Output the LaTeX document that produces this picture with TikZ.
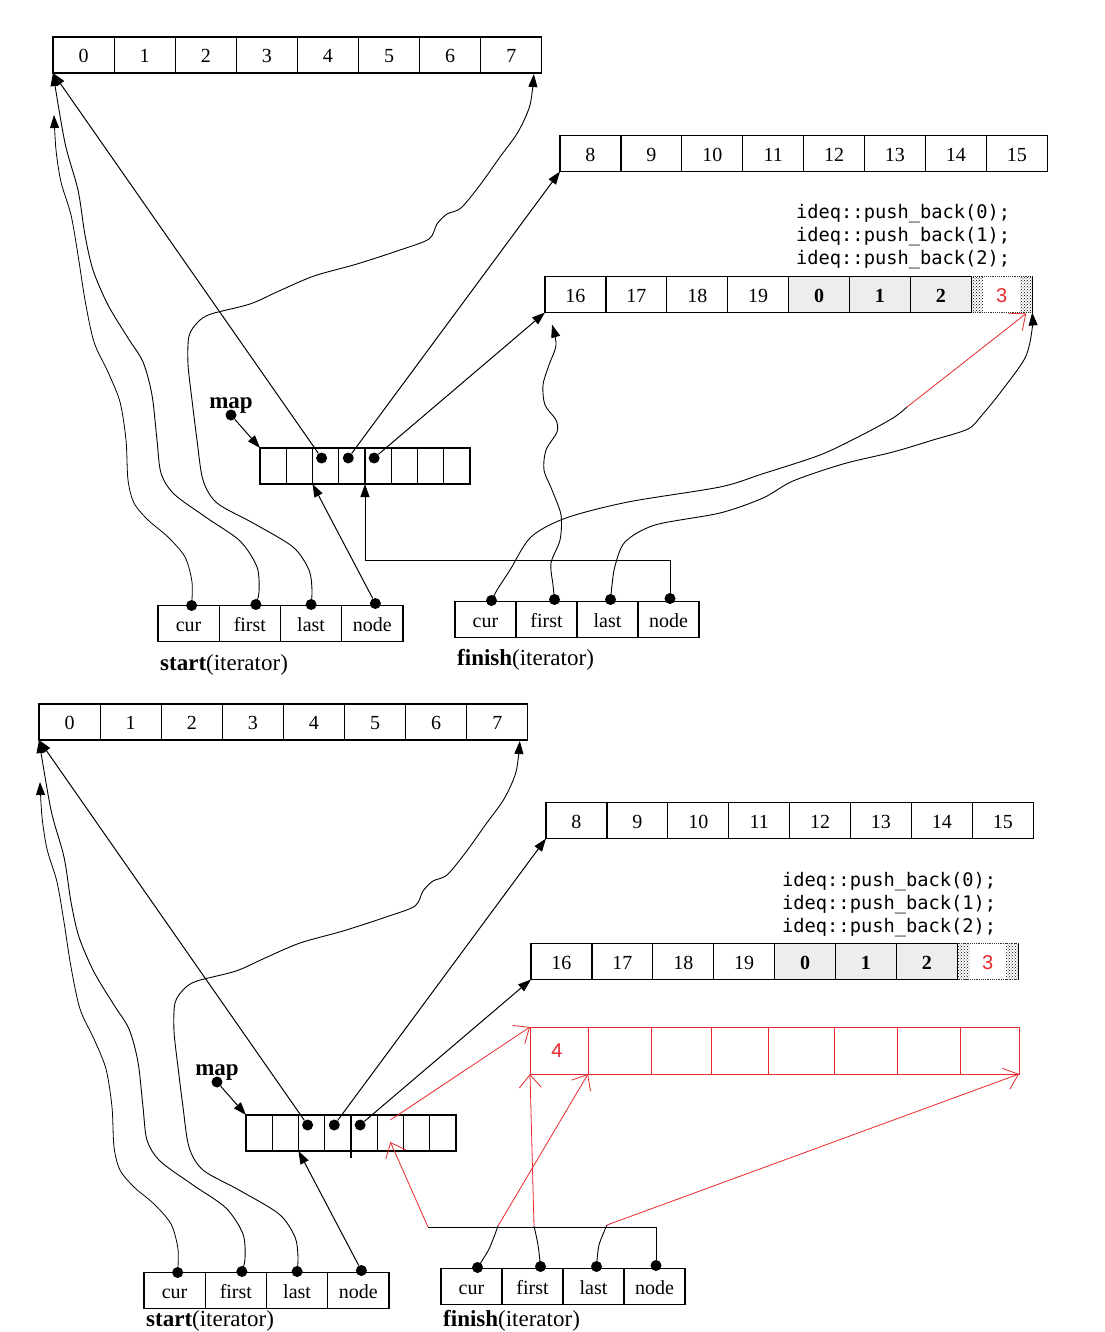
\documentclass[tikz,border=0pt]{standalone}
\usepackage{fontspec}
\setmainfont{Liberation Serif}
\newfontfamily\monof{DejaVu Sans Mono}
\newfontfamily\sansf{Liberation Sans}
\usetikzlibrary{arrows.meta,patterns}
\definecolor{pred}{RGB}{235,40,45}
\tikzset{
 cellbox/.style={draw, line width=1.2pt, inner sep=0pt, outer sep=0pt, minimum height=36pt, anchor=west, text height=18pt, text depth=2.5pt, font=\fontsize{20}{24}\selectfont},
 rcell/.style={draw=pred, line width=0.9pt, inner sep=0pt, outer sep=0pt, minimum height=47pt, anchor=west},
 dotn/.style={circle, fill=black, inner sep=0pt, minimum size=11pt},
 ptr/.style={line width=1pt, -{Triangle[length=13pt,width=9pt]}},
 wig/.style={line width=0.9pt, -{Triangle[length=13pt,width=9pt]}},
 thinwig/.style={line width=0.9pt},
 rptr/.style={draw=pred, line width=0.8pt, -{Straight Barb[length=13pt,width=22pt,line width=0.8pt]}},
 lbl/.style={font=\fontsize{23}{27}\selectfont, inner sep=0pt},
 mono/.style={font=\monof\fontsize{18.7}{23}\selectfont, inner sep=0pt, anchor=base west},
}
\newcommand\labdys{0}
\newcommand\labdyf{0}
\newcommand\dequebase{%
 \foreach \v [count=\i from 0] in {0,...,7}
   \node[cellbox, minimum width=61.1pt] (T\i) at (53+61.1*\i,55) {\v};
 \foreach \v [count=\i from 0] in {8,...,15}
   \node[cellbox, minimum width=60.9pt] (M\i) at (560+60.9*\i,153.5) {\v};
 \foreach \v [count=\i from 0] in {16,...,19}
   \node[cellbox, minimum width=60.9pt] (L\i) at (545+60.9*\i,294.5) {\v};
 \foreach \v [count=\i from 4] in {0,1,2}
   \node[cellbox, minimum width=60.9pt, fill=black!7, font=\fontsize{20}{24}\selectfont\bfseries] (L\i) at (545+60.9*\i,294.5) {\v};
 \node[cellbox, minimum width=60.9pt, draw=none, text=pred, font=\sansf\fontsize{20}{24}\selectfont] (L7) at (545+60.9*7,294.5) {3};
 \path[pattern=crosshatch dots, pattern color=black] (L7.north west) rectangle ([xshift=12pt]L7.south west);
 \path[pattern=crosshatch dots, pattern color=black] ([xshift=-12pt]L7.north east) rectangle (L7.south east);
 \draw[line width=1.2pt, black!80, densely dotted] (L7.north west) rectangle (L7.south east);
 \draw[line width=1pt] (L7.north west) -- (L7.south west) (L7.north east) -- (L7.south east);
 \foreach \i in {0,...,7}
   \node[cellbox, minimum width=26.25pt] (P\i) at (260+26.25*\i,466) {};
 \foreach \v [count=\i from 0] in {cur,first,last,node}
   \node[cellbox, minimum width=61.25pt] (S\i) at (158+61.25*\i,623.5) {\v};
 \foreach \v [count=\i from 0] in {cur,first,last,node}
   \node[cellbox, minimum width=61pt] (F\i) at (455+61*\i,619.5) {\v};
 % texts
 \node[mono] (PB0) at (796,219) {ideq::push\_back(0);};
 \node[mono] (PB1) at (796,242) {ideq::push\_back(1);};
 \node[mono] (PB2) at (796,265) {ideq::push\_back(2);};
 \node[lbl, anchor=base, font=\fontsize{23}{27}\selectfont\bfseries] (maplbl) at (231,408) {map};
 \node[lbl, anchor=base west] (SL) at (160,670+\labdys) {\textbf{start}(iterator)};
 \node[lbl, anchor=base west] (FL) at (457,665+\labdyf) {\textbf{finish}(iterator)};
 % dots
 \node[dotn] (mapdot) at (231,415) {};
 \node[dotn, xshift=-4pt, yshift=8pt] (Pd2) at (P2.center) {};
 \node[dotn, xshift=-3.6pt, yshift=8pt] (Pd3) at (P3.center) {};
 \node[dotn, xshift=-4pt, yshift=8pt] (Pd4) at (P4.center) {};
 \node[dotn, xshift=3pt] (Sd0) at (S0.north) {};
 \node[dotn, xshift=6pt, yshift=1pt] (Sd1) at (S1.north) {};
 \node[dotn, yshift=1pt] (Sd2) at (S2.north) {};
 \node[dotn, xshift=3pt, yshift=2pt] (Sd3) at (S3.north) {};
 \node[dotn, xshift=6pt, yshift=1pt] (Fd0) at (F0.north) {};
 \node[dotn, xshift=8pt, yshift=2pt] (Fd1) at (F1.north) {};
 \node[dotn, xshift=3pt, yshift=2pt] (Fd2) at (F2.north) {};
 \node[dotn, xshift=1.5pt, yshift=3pt] (Fd3) at (F3.north) {};
 % connectors
 \draw[ptr] (mapdot) -- (P0.north west);
 \draw[ptr] (Pd2) -- (T0.south west);
 \draw[ptr] (Pd3) -- (M0.south west);
 \draw[ptr] (Pd4) -- (L0.south west);
 \draw[ptr] (Sd3) -- (P2.south west);
 \coordinate (curend) at ([xshift=1pt,yshift=-42pt]T0.south west);
 \coordinate (lastend) at ([xshift=-8pt,yshift=-1pt]T7.south east);
 \draw[wig, line width=0.8pt] plot[smooth] coordinates {(Sd0) (192,582) (185,557) (168,537) (148,520) (134,503) (128,480) (126,440) (120,402) (108,372) (94,342) (85,300) (78,255) (71,215) (61,182) (56,150) (curend)};
 \draw[wig] plot[smooth] coordinates {(Sd1) (259,592) (257,567) (240,541) (207,518) (174,494) (161,473) (157,440) (152,395) (143,362) (128,338) (108,305) (93,270) (85,235) (78,190) (65,143) (T0.south west)};
 \draw[wig] plot[smooth] coordinates {(Sd2) (312,590) (309,570) (293,547) (253,523) (217,503) (203,480) (197,440) (192,400) (188,364) (189,336) (198,322) (211,314) (250,304) (279,291) (314,276) (357,264) (400,250) (429,239) (437,224) (447,214) (461,208) (480,185) (500,157) (518,132) (530,105) (lastend)};
}
\begin{document}
\begin{tikzpicture}[x=1pt,y=-1pt]
\fill[white] (0,0) rectangle (1104,1332);
\useasboundingbox (0,0) rectangle (1104,1332);
\begin{scope}[name prefix=A-]
 \dequebase
 \coordinate (fbar) at (0,560);
 \draw[ptr] (Fd3) -- (Fd3 |- fbar) -- (P4.south west |- fbar) -- (P4.south west);
 \coordinate (ffend) at ([xshift=7pt,yshift=-12pt]L0.south west);
 \draw[wig] plot[smooth] coordinates {(Fd1) (553,585) (551,563) (560,540) (561,515) (552,490) (544,470) (546,450) (557,432) (556,420) (545,405) (543,385) (549,365) (556,345) (ffend)};
 \coordinate (fcend) at (907,407);
 \coordinate (rt) at ([xshift=-6pt,yshift=-1pt]L7.south east);
 \draw[thinwig] plot[smooth] coordinates {(Fd0) (497,590) (510,570) (531,537) (566,518) (628,502) (720,487) (762,474) (820,455) (860,436) (893,418) (fcend)};
 \draw[rptr] (fcend) -- (rt);
 \draw[wig] plot[smooth] coordinates {(Fd2) (612,585) (615,566) (625,542) (655,525) (720,513) (763,498) (793,481) (843,464) (893,452) (933,440) (968,429) (982,415) (1000,393) (1025,358) (1032,330) (L7.south east)};
\end{scope}
\renewcommand\labdys{-11}
\renewcommand\labdyf{-6}
\begin{scope}[shift={(-14,667)}, name prefix=B-]
 \dequebase
 \foreach \a/\w [count=\i from 0] in {544/58pt, 602/63.5pt, 665.5/60pt, 725.5/57pt, 782.5/66pt, 848.5/63pt, 911.5/62.5pt, 974/59pt}
   \node[rcell, minimum width=\w] (R\i) at (\a,383.5) {};
 \node[text=pred, font=\sansf\fontsize{20}{24}\selectfont, inner sep=0pt, xshift=-2pt] (R0lbl) at (R0.center) {4};
 \draw[line width=2pt] (P4.south west) -- ++(0,7);
 \coordinate (bbar) at (0,560);
 \coordinate (bn) at (442,560);
 \draw[line width=1pt] (Fd3) -- (Fd3 |- bbar) -- (bn);
 \draw[rptr] (bn) -- ([yshift=-9pt]P5.center);
 \draw[rptr] ([yshift=13pt]P5.center) -- (R0.north west);
 \coordinate (bc0) at (512,559);
 \coordinate (bc1) at (548,559);
 \coordinate (bc2) at (621,558);
 \draw[thinwig] plot[smooth] coordinates {(Fd0) (503,582) (bc0)};
 \draw[thinwig] plot[smooth] coordinates {(Fd1) (552,578) (bc1)};
 \draw[thinwig] plot[smooth] coordinates {(Fd2) (613,578) (bc2)};
 \draw[rptr] (bc0) -- (R1.south west);
 \draw[rptr] (bc1) -- (R0.south west);
 \draw[rptr] (bc2) -- (R7.south east);
\end{scope}
\end{tikzpicture}
\end{document}
